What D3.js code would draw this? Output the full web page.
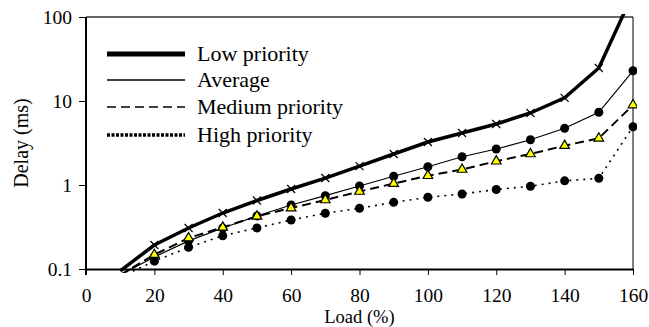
<!DOCTYPE html>
<html>
<head>
<meta charset="utf-8">
<script src="https://cdn.jsdelivr.net/npm/d3@7"></script>
<style>
  body { margin: 0; background: #fff; }
  svg { display: block; }
  text { font-family: "Liberation Serif", "Times New Roman", serif; fill: #000; }
</style>
</head>
<body>
<svg id="chart" width="649" height="327"></svg>
<script>
// load values
const load = [10, 20, 30, 40, 50, 60, 70, 80, 90, 100, 110, 120, 130, 140, 150, 160];
const lowPriority    = [0.095, 0.193, 0.308, 0.464, 0.654, 0.896, 1.21, 1.68, 2.34, 3.25, 4.16, 5.33, 7.2, 10.9, 24.7, 190];
const average        = [0.085, 0.139, 0.216, 0.308, 0.428, 0.578, 0.746, 0.973, 1.27, 1.65, 2.17, 2.68, 3.46, 4.73, 7.34, 22.9];
const mediumPriority = [0.085, 0.148, 0.234, 0.313, 0.424, 0.532, 0.663, 0.837, 1.04, 1.29, 1.53, 1.92, 2.34, 2.94, 3.6, 8.96];
const highPriority   = [0.08, 0.124, 0.181, 0.249, 0.308, 0.383, 0.461, 0.528, 0.622, 0.714, 0.782, 0.884, 0.965, 1.12, 1.2, 4.94];
const xTicks = [0, 20, 40, 60, 80, 100, 120, 140, 160];
const yTicks = [0.1, 1, 10, 100];
const yTickLabels = ["0.1", "1", "10", "100"];

const svg = d3.select("#chart");
const margin = {left: 86, right: 16, top: 17, bottom: 58};
const W = 649, H = 327;

const x = d3.scaleLinear().domain([0, 160]).range([margin.left, W - margin.right]);
const y = d3.scaleLog().domain([0.1, 100]).range([H - margin.bottom, margin.top]);

// clip a bit past the plot area, like the original
svg.append("clipPath").attr("id", "plotclip")
  .append("rect")
  .attr("x", x(0)).attr("y", y(100) - 3)
  .attr("width", x(160) - x(0) + 4).attr("height", y(0.1) - y(100) + 7);

// frame: top and right
svg.append("line")
  .attr("x1", x(0)).attr("x2", x(160)).attr("y1", y(100)).attr("y2", y(100))
  .attr("stroke", "#333").attr("stroke-width", 1.5);
svg.append("line")
  .attr("x1", x(160)).attr("x2", x(160)).attr("y1", y(100)).attr("y2", y(0.1))
  .attr("stroke", "#000").attr("stroke-width", 1);

// x axis
const xAxis = svg.append("g")
  .attr("transform", `translate(0,${y(0.1)})`)
  .call(d3.axisBottom(x).tickValues(xTicks).tickSize(6).tickSizeOuter(0));
xAxis.select(".domain").attr("stroke-width", 2);
xAxis.selectAll(".tick line").attr("stroke-width", 1);
xAxis.selectAll(".tick text").attr("y", 19.5).attr("font-size", 19.5)
  .style("font-family", '"Liberation Serif", serif');

// y axis
const yAxis = svg.append("g")
  .attr("transform", `translate(${x(0)},0)`)
  .call(d3.axisLeft(y).tickValues(yTicks).tickSize(7).tickPadding(7).tickSizeOuter(0)
    .tickFormat((d, i) => yTickLabels[i]));
yAxis.select(".domain").attr("stroke-width", 2).attr("d", `M0,${y(100)}V${y(0.1) + 6}`);
yAxis.selectAll(".tick line").attr("stroke-width", 1);
yAxis.selectAll(".tick text").attr("font-size", 19.5)
  .style("font-family", '"Liberation Serif", serif');

// axis titles
svg.append("text")
  .attr("x", (x(0) + x(160)) / 2).attr("y", 323)
  .attr("text-anchor", "middle").attr("font-size", 18.5)
  .text("Load (%)");
svg.append("text")
  .attr("transform", `translate(28,${(y(0.1) + y(100)) / 2}) rotate(-90)`)
  .attr("text-anchor", "middle").attr("font-size", 20)
  .text("Delay (ms)");

const plot = svg.append("g").attr("clip-path", "url(#plotclip)");

function drawLine(vals, width, dash) {
  const line = d3.line().x((d, i) => x(load[i])).y(d => y(d));
  plot.append("path")
    .datum(vals)
    .attr("d", line)
    .attr("fill", "none")
    .attr("stroke", "#000")
    .attr("stroke-width", width)
    .attr("stroke-dasharray", dash);
}

drawLine(highPriority, 1.6, "2,5");
drawLine(mediumPriority, 2, "9,5");
drawLine(average, 1.2, null);
drawLine(lowPriority, 3.5, null);

// markers (only those inside the plot)
const inside = (vals) => vals.map((v, i) => ({x: load[i], v})).filter(d => d.v >= 0.1 && d.v <= 100);

plot.selectAll(".hi").data(inside(highPriority)).join("circle")
  .attr("cx", d => x(d.x)).attr("cy", d => y(d.v)).attr("r", 4.5).attr("fill", "#000");

plot.selectAll(".avg").data(inside(average)).join("circle")
  .attr("class", "avg")
  .attr("cx", d => x(d.x)).attr("cy", d => y(d.v)).attr("r", 4.5).attr("fill", "#000");

const tri = d3.symbol().type(d3.symbolTriangle).size(40);
plot.selectAll(".med").data(inside(mediumPriority)).join("path")
  .attr("class", "med")
  .attr("transform", d => `translate(${x(d.x)},${y(d.v)})`)
  .attr("d", tri)
  .attr("fill", "#ffff00").attr("stroke", "#000").attr("stroke-width", 1.2);

plot.selectAll(".low").data(inside(lowPriority)).join("path")
  .attr("class", "low")
  .attr("transform", d => `translate(${x(d.x)},${y(d.v)})`)
  .attr("d", "M-4,-4L4,4M-4,4L4,-4")
  .attr("stroke", "#000").attr("stroke-width", 1.2);

// legend
const legendNames = ["Low priority", "Average", "Medium priority", "High priority"];
const legendStyle = [
  {w: 5, dash: null},
  {w: 1.5, dash: null},
  {w: 1.5, dash: "9,5"},
  {w: 3.5, dash: "3,1.5"}
];
const legendY = [54, 80, 107, 135];
const lg = svg.append("g");
legendNames.forEach((name, i) => {
  lg.append("line")
    .attr("x1", 107).attr("x2", 185).attr("y1", legendY[i]).attr("y2", legendY[i])
    .attr("stroke", "#000").attr("stroke-width", legendStyle[i].w)
    .attr("stroke-dasharray", legendStyle[i].dash);
  lg.append("text")
    .attr("x", 197).attr("y", legendY[i] + 7)
    .attr("font-size", 22)
    .text(name);
});
</script>
</body>
</html>
